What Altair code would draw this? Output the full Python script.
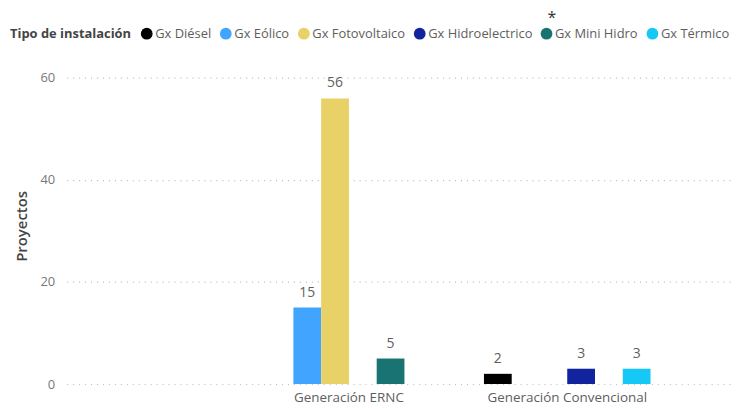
import altair as alt
import pandas as pd

categories = ["Generación ERNC", "Generación ERNC", "Generación ERNC",
              "Generación Convencional", "Generación Convencional", "Generación Convencional"]
series = ["Gx Eólico", "Gx Fotovoltaico", "Gx Mini Hidro",
          "Gx Diésel", "Gx Hidroelectrico", "Gx Térmico"]
values = [15, 56, 5, 2, 3, 3]

series_order = ["Gx Diésel", "Gx Eólico", "Gx Fotovoltaico",
                "Gx Hidroelectrico", "Gx Mini Hidro", "Gx Térmico"]
series_colors = ["#000000", "#41A5FF", "#E8D166", "#12239E", "#1A7373", "#15C8F5"]
category_order = ["Generación ERNC", "Generación Convencional"]
y_ticks = [0, 20, 40, 60]

df = pd.DataFrame({"cat": categories, "series": series, "value": values})

FONT = "Open Sans"

base = alt.Chart(df).encode(
    x=alt.X("cat:N", sort=category_order,
            scale=alt.Scale(domain=category_order, paddingInner=0.237,
                            paddingOuter=0.64, align=0.712),
            axis=alt.Axis(title=None, labelAngle=0, domain=False, ticks=False,
                          labelPadding=7, labelFontSize=13.5, labelColor="#605E5C",
                          labelFont=FONT)),
    xOffset=alt.XOffset("series:N",
                        scale=alt.Scale(domain=series_order, paddingInner=0, paddingOuter=0)),
    y=alt.Y("value:Q", scale=alt.Scale(domain=[0, 62], nice=False),
            axis=alt.Axis(title="Proyectos", values=y_ticks, domain=False, ticks=False,
                          labelPadding=12, labelFontSize=13, labelColor="#777777",
                          labelFont=FONT, titleFont=FONT, titleFontSize=15,
                          titleFontWeight=600, titleColor="#444444", titlePadding=11,
                          grid=True, gridDash=[1, 5], gridColor="#BBBBBB", gridWidth=1.2)),
)

bars = base.mark_bar().encode(
    color=alt.Color("series:N",
                    scale=alt.Scale(domain=series_order, range=series_colors),
                    legend=alt.Legend(title="Tipo de instalación", orient="none",
                                      legendX=-57, legendY=-41, direction="horizontal",
                                      titleOrient="left", titleFont=FONT, titleFontSize=13,
                                      titleFontWeight="bold", titleColor="#444444",
                                      titlePadding=9, labelFont=FONT, labelFontSize=13,
                                      labelColor="#605E5C", symbolType="circle",
                                      symbolSize=140, symbolStrokeWidth=0,
                                      labelOffset=2, columnPadding=7.5, labelLimit=200,
                                      columns=6)),
)

labels = base.mark_text(dy=-8, baseline="bottom", font=FONT, fontSize=14,
                        color="#605E5C").encode(text="value:Q")

star = alt.Chart(pd.DataFrame({"t": ["*"]})).mark_text(
    font=FONT, fontSize=16, color="#333333", baseline="middle"
).encode(x=alt.value(488), y=alt.value(-50), text="t:N")

chart = alt.layer(bars, labels, star).properties(
    width=668, height=318,
    autosize=alt.AutoSizeParams(type="none"),
    padding={"left": 59, "top": 59, "right": 0, "bottom": 24},
).configure_view(stroke=None)

chart.save("out.html", embed_options={"renderer": "svg", "actions": False})
